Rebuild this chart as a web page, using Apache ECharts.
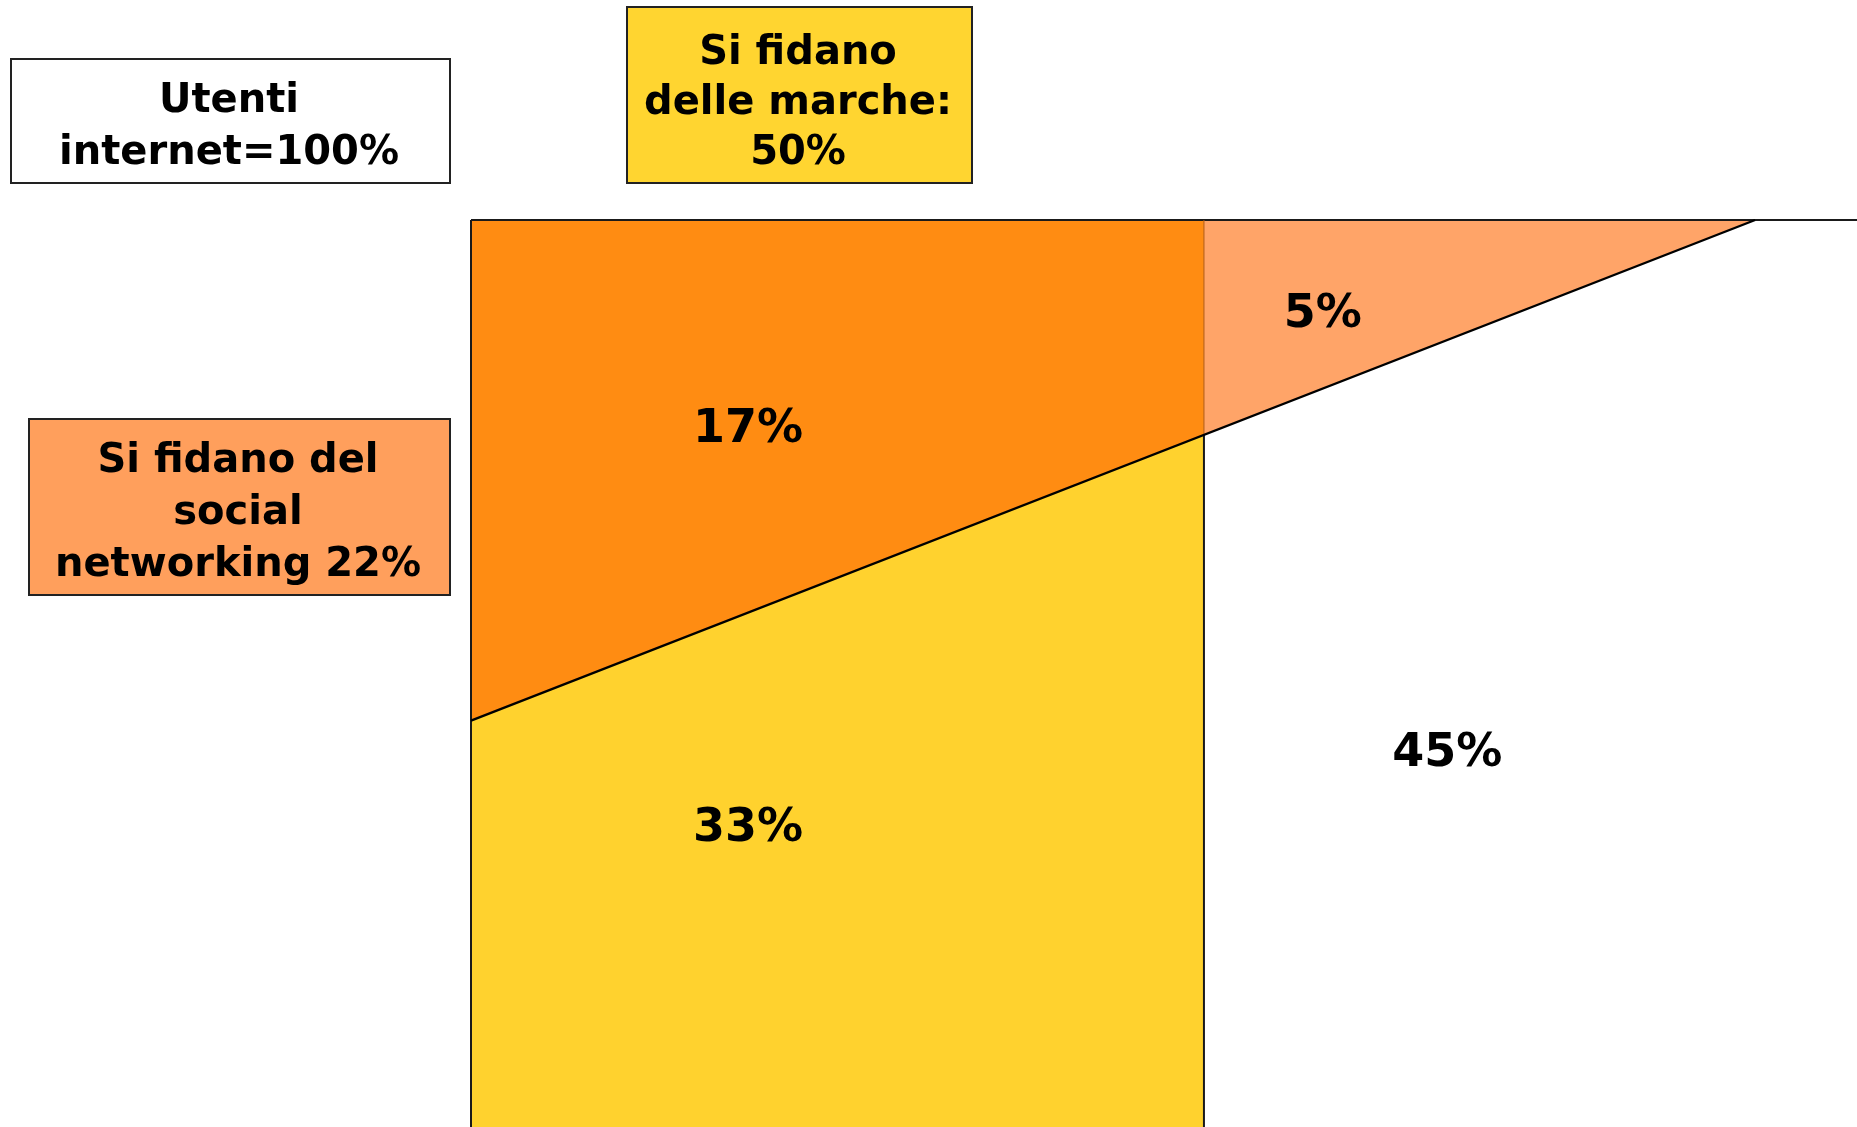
<!DOCTYPE html>
<html><head><meta charset="utf-8">
<script src="https://cdn.jsdelivr.net/npm/echarts@6/dist/echarts.min.js"></script>
<style>html,body{margin:0;padding:0;background:#fff}#c{width:1857px;height:1127px}</style>
</head><body><div id="c"></div>
<script>
// ---- data (chart units: x 0..xMax left→right, y 0..yMax top→bottom) ----
const brandTrust = 50;        // x position of the vertical divider (50% trust brands)
const diagStartY = 55.2;      // where the diagonal meets the left edge
const diagEndX = 87.6;        // where the diagonal meets the top edge
const xMax = 94.55;
const yMax = 100;
const regionLabels = ['17%', '5%', '33%', '45%'];
const boxTexts = ['Utenti\ninternet=100%', 'Si fidano\ndelle marche:\n50%', 'Si fidano del\nsocial\nnetworking 22%'];

// ---- geometry derived from the values ----
const cutY = diagStartY * (1 - brandTrust / diagEndX);
const polygons = [
  [[0, 0], [brandTrust, 0], [brandTrust, cutY], [0, diagStartY]],
  [[brandTrust, 0], [diagEndX, 0], [brandTrust, cutY]],
  [[0, diagStartY], [brandTrust, cutY], [brandTrust, yMax], [0, yMax]],
  null
];
const lines = [
  { pts: [[0, 0], [xMax, 0]], color: '#1a1a1a', w: 2 },
  { pts: [[0, 0], [0, yMax]], color: '#1a1a1a', w: 2 },
  { pts: [[brandTrust, cutY], [brandTrust, yMax]], color: '#1a1a1a', w: 2 },
  { pts: [[brandTrust, 0], [brandTrust, cutY]], color: '#b05a10', w: 1 },
  { pts: [[0, diagStartY], [diagEndX, 0]], color: '#000', w: 2.4 }
];

// ---- layout / style ----
const fills = ['#FF8C12', '#FFA468', '#FFD22E', null];
const labelPos = [[18.9, 22.7], [58.1, 10.0], [18.9, 66.7], [66.6, 58.4]];
const FONT = '"DejaVu Sans", Verdana, sans-serif';
const TXT_DY = 4;

const chart = echarts.init(document.getElementById('c'));
chart.setOption({
  animation: false,
  grid: { left: 471, right: 0, top: 220, bottom: 0 },
  xAxis: { type: 'value', min: 0, max: xMax, show: false },
  yAxis: { type: 'value', min: 0, max: yMax, inverse: true, show: false },
  series: [
    {
      type: 'custom',
      coordinateSystem: 'cartesian2d',
      data: regionLabels.map((l, i) => [i]),
      renderItem: function (params, api) {
        const i = params.dataIndex;
        const children = [];
        if (polygons[i]) {
          children.push({
            type: 'polygon',
            shape: { points: polygons[i].map(p => api.coord(p)) },
            style: { fill: fills[i] }
          });
        }
        const lp = api.coord(labelPos[i]);
        children.push({
          type: 'text',
          x: lp[0], y: lp[1] + TXT_DY,
          style: { text: regionLabels[i], font: 'bold 46px ' + FONT, fill: '#000', align: 'center', verticalAlign: 'middle' }
        });
        return { type: 'group', children: children };
      },
      z: 1
    },
    {
      type: 'custom',
      coordinateSystem: 'cartesian2d',
      data: lines.map((l, i) => [i]),
      renderItem: function (params, api) {
        const l = lines[params.dataIndex];
        return {
          type: 'polyline',
          shape: { points: l.pts.map(p => api.coord(p)) },
          style: { stroke: l.color, lineWidth: l.w, fill: null }
        };
      },
      z: 2
    }
  ],
  graphic: [
    { type: 'rect', left: 10, top: 58, shape: { width: 439, height: 124 }, style: { fill: '#fff', stroke: '#222', lineWidth: 2 } },
    { type: 'text', x: 229, y: 124 + TXT_DY, style: { text: boxTexts[0], font: 'bold 40px ' + FONT, lineHeight: 52, fill: '#000', align: 'center', verticalAlign: 'middle' } },
    { type: 'rect', left: 626, top: 6, shape: { width: 345, height: 176 }, style: { fill: '#FFD530', stroke: '#222', lineWidth: 2 } },
    { type: 'text', x: 798, y: 100 + TXT_DY, style: { text: boxTexts[1], font: 'bold 40px ' + FONT, lineHeight: 50, fill: '#000', align: 'center', verticalAlign: 'middle' } },
    { type: 'rect', left: 28, top: 418, shape: { width: 421, height: 176 }, style: { fill: '#FF9F5C', stroke: '#222', lineWidth: 2 } },
    { type: 'text', x: 238, y: 510 + TXT_DY, style: { text: boxTexts[2], font: 'bold 40px ' + FONT, lineHeight: 52, fill: '#000', align: 'center', verticalAlign: 'middle' } }
  ]
});
</script>
</body></html>
